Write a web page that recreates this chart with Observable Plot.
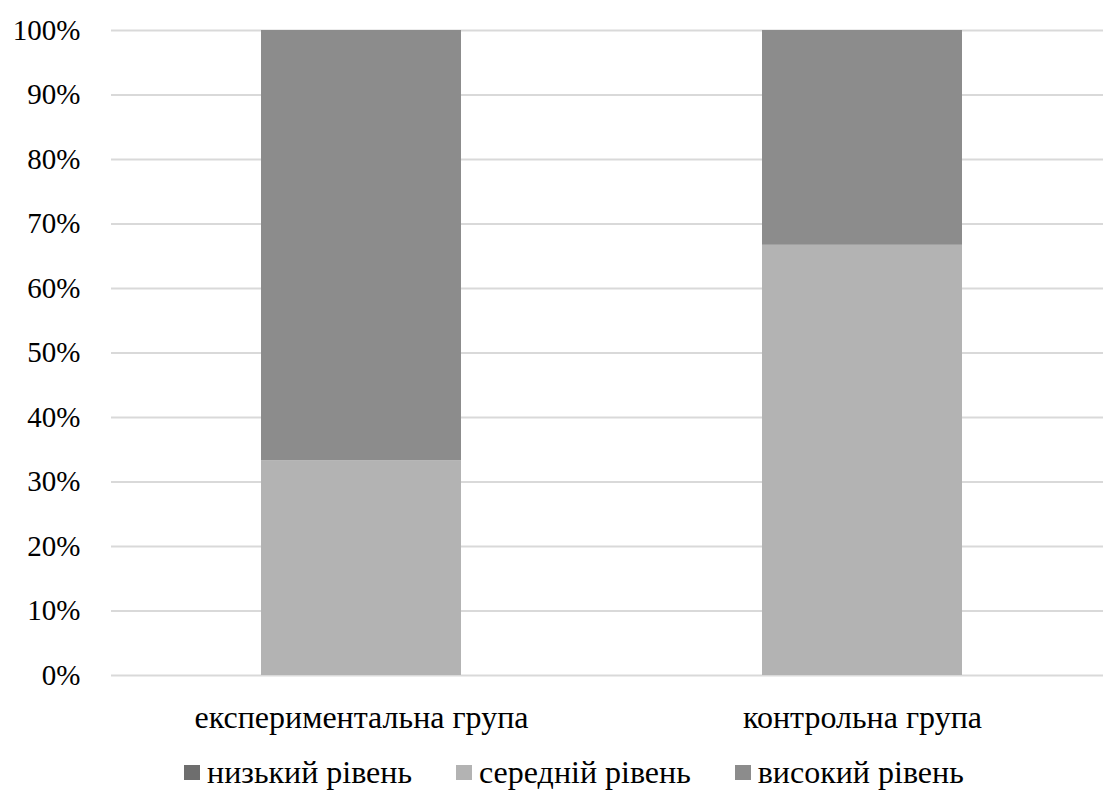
<!DOCTYPE html>
<html>
<head>
<meta charset="utf-8">
<script src="https://cdn.jsdelivr.net/npm/d3@7"></script>
<script src="https://cdn.jsdelivr.net/npm/@observablehq/plot@0.6"></script>
</head>
<body style="margin:0;padding:0;background:#fff">
<div id="wrap" style="width:1103px;height:790px;overflow:hidden;font-family:'Liberation Serif',serif">
  <div id="chart"></div>
  <div id="legend" style="display:flex;justify-content:flex-start;align-items:center;height:40px;padding-top:12px;padding-left:184px;font-family:'Liberation Serif',serif;font-size:32px;color:#000;gap:44px"></div>
</div>
<script>
const groups = ["експериментальна група", "контрольна група"];
const levels = ["низький рівень", "середній рівень", "високий рівень"];
const lowValues = [0, 0];
const midValues = [33.3, 66.7];
const highValues = [66.7, 33.3];
const levelColors = ["#6e6e6e", "#b3b3b3", "#8c8c8c"];
const yTicks = [0, 10, 20, 30, 40, 50, 60, 70, 80, 90, 100];

const series = [lowValues, midValues, highValues];
const data = [];
groups.forEach((g, i) => {
  levels.forEach((l, j) => data.push({group: g, level: l, value: series[j][i]}));
});

const chart = Plot.plot({
  width: 1103,
  height: 740,
  marginTop: 30,
  marginBottom: 65,
  marginLeft: 111,
  marginRight: 0,
  style: { fontFamily: "Liberation Serif", fontSize: "29px", color: "#000", background: "#fff" },
  x: { domain: groups, range: [111, 1113], paddingInner: 0.6, paddingOuter: 0.3, label: null },
  y: { domain: [0, 100], label: null },
  color: { domain: levels, range: levelColors },
  marks: [
    Plot.ruleY(yTicks, { stroke: "#d9d9d9", strokeWidth: 2 }),
    Plot.barY(data, Plot.stackY({ order: levels }, { x: "group", y: "value", fill: "level" })),
    Plot.axisY({ ticks: yTicks, tickFormat: d => d + "%", tickSize: 0, tickPadding: 31, label: null, fontSize: 29 }),
    Plot.axisX({ tickSize: 0, tickPadding: 30, label: null, fontSize: 32 })
  ]
});
chart.querySelectorAll("text").forEach(t => { t.style.fontFamily = "Liberation Serif"; });
document.getElementById("chart").appendChild(chart);

const legend = document.getElementById("legend");
levels.forEach((l, i) => {
  const item = document.createElement("div");
  item.style.display = "flex";
  item.style.alignItems = "center";
  const sw = document.createElement("span");
  sw.style.display = "inline-block";
  sw.style.width = "16px";
  sw.style.height = "15px";
  sw.style.marginRight = "7px";
  sw.style.background = levelColors[i];
  const t = document.createElement("span");
  t.style.fontFamily = "Liberation Serif";
  t.style.fontSize = "32px";
  t.textContent = l;
  item.appendChild(sw);
  item.appendChild(t);
  legend.appendChild(item);
});
</script>
</body>
</html>
